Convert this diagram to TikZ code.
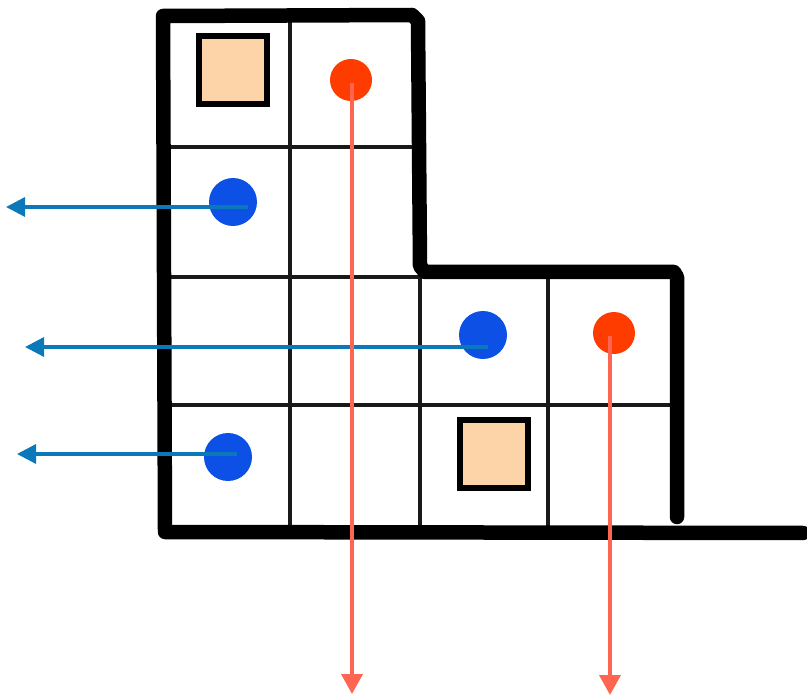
\documentclass[tikz,border=0pt]{standalone}
\usetikzlibrary{arrows.meta}
\definecolor{tan}{HTML}{FDD4A8}
\definecolor{dotred}{HTML}{FF3C00}
\definecolor{dotblue}{HTML}{0C50E6}
\definecolor{arrblue}{HTML}{0B78B9}
\definecolor{arrred}{HTML}{FF6550}
\tikzset{
  wall/.style={line width=14.5pt, line cap=round, line join=round, black},
  gridline/.style={line width=3.3pt, black!90},
  box/.style={draw=black, line width=6.5pt, fill=tan, minimum size=68pt, inner sep=0pt},
  reddot/.style={circle, fill=dotred, minimum size=42pt, inner sep=0pt},
  bluedot/.style={circle, fill=dotblue, minimum size=48pt, inner sep=0pt},
  bluearrow/.style={draw=arrblue, line width=3.3pt, -{Triangle[length=19pt,width=19pt]}},
  redarrow/.style={draw=arrred, line width=3.8pt, -{Triangle[length=20pt,width=21pt]}}
}
\begin{document}
\begin{tikzpicture}[x=1pt,y=-1pt]
\useasboundingbox (0,0) rectangle (807,695);
% thin grid
\draw[gridline] (163,147) -- (418,147);
\draw[gridline] (163,277) -- (420,277);
\draw[gridline] (163,405) -- (677,405);
\draw[gridline] (290,15) -- (290,533);
\draw[gridline] (420,272) -- (420,533);
\draw[gridline] (548,272) -- (548,533);
% thick walls
\draw[wall] (165,530) -- (163,16) -- (412,15) -- (418,21) -- (420,266) -- (425,272) -- (674,272) -- (677,277) -- (677,517);
\draw[wall] (165,532) -- (803,533);
% contents
\node[box] (s1) at (233,70) {};
\node[box] (s2) at (494,454) {};
\node[reddot] (r1) at (351,80) {};
\node[reddot] (r2) at (614,333) {};
\node[bluedot] (b1) at (233,202) {};
\node[bluedot] (b2) at (483,335) {};
\node[bluedot] (b3) at (228,457) {};
% arrow ends
\coordinate (eb1) at (6,207);
\coordinate (eb2) at (25,347);
\coordinate (eb3) at (17,454);
\coordinate (er1) at (352,694);
\coordinate (er2) at (610,695);
\draw[bluearrow] ([xshift=15pt,yshift=-5pt]b1.center) -- (eb1);
\draw[bluearrow] ([xshift=5pt,yshift=-12pt]b2.center) -- (eb2);
\draw[bluearrow] ([xshift=9pt,yshift=3pt]b3.center) -- (eb3);
\draw[redarrow] ([xshift=1pt,yshift=-3pt]r1.center) -- (er1);
\draw[redarrow] ([xshift=-4pt,yshift=-3pt]r2.center) -- (er2);
\end{tikzpicture}
\end{document}
